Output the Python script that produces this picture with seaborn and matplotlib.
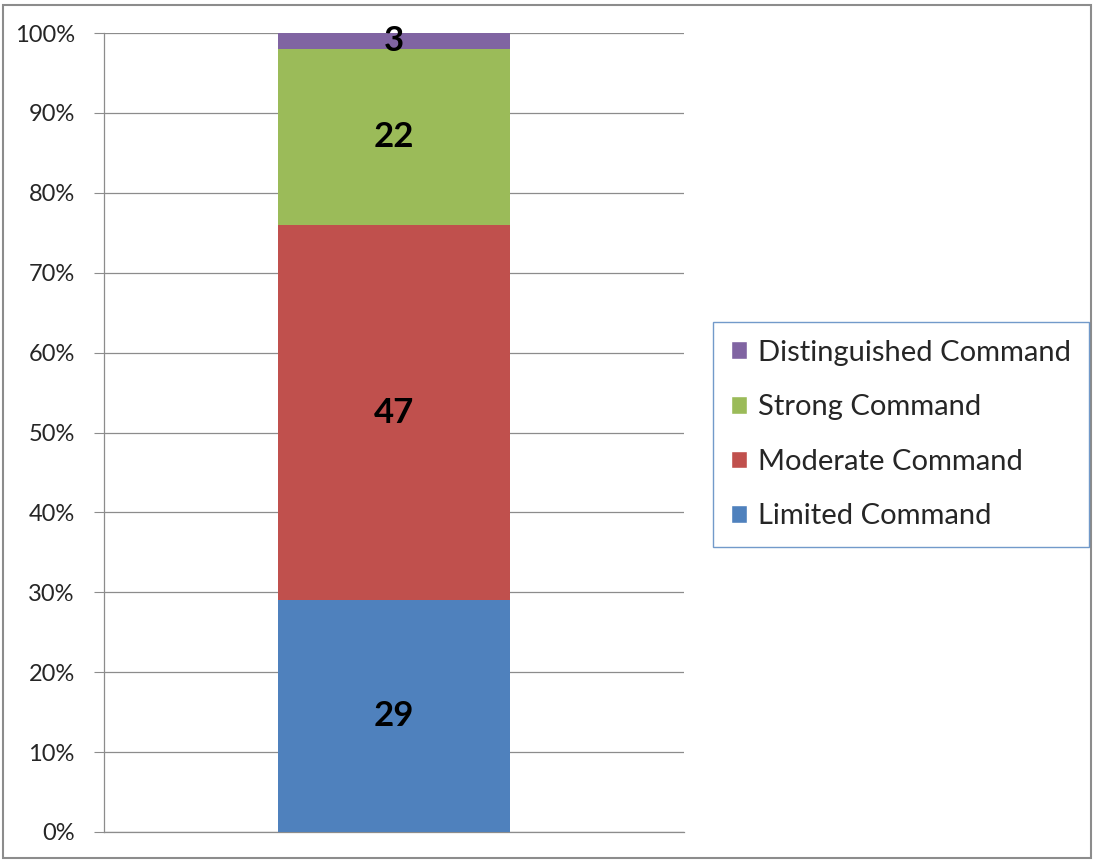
import matplotlib
matplotlib.use("Agg")
import matplotlib.pyplot as plt
import seaborn as sns
import pandas as pd
from matplotlib.patches import Rectangle, Patch
from matplotlib.ticker import PercentFormatter

levels = ["Limited Command", "Moderate Command", "Strong Command", "Distinguished Command"]
shares = [29, 47, 22, 2]          # segment heights in percent
bar_labels = ["29", "47", "22", "3"]
colors = ["#4F81BD", "#C0504D", "#9BBB59", "#8064A2"]

sns.set_style("white")
plt.rcParams["font.family"] = ["Lato", "DejaVu Sans"]

df = pd.DataFrame({"group": ["All"] * len(levels), "level": levels, "share": shares})

fig = plt.figure(figsize=(10.96, 8.61), dpi=100)
ax = fig.add_axes([104 / 1096, 1 - 832 / 861, 580 / 1096, 799 / 861])

bottom = 0
for i, row in df.iterrows():
    sns.barplot(data=df.iloc[[i]], x="group", y="share", bottom=bottom,
                color=colors[i], width=0.4, saturation=1, linewidth=0, ax=ax, zorder=3)
    ax.text(0, bottom + row["share"] / 2, bar_labels[i], ha="center", va="center",
            fontsize=25, fontweight="bold", color="black", zorder=4)
    bottom += row["share"]

ax.set_xlim(-0.5, 0.5)
ax.set_ylim(0, 100)
ax.set_yticks(range(0, 101, 10))
ax.yaxis.set_major_formatter(PercentFormatter(decimals=0))
ax.set_xticks([])
ax.set_xlabel("")
ax.set_ylabel("")
ax.grid(axis="y", color="#8c8c8c", linewidth=0.9, zorder=0)
for s in ["top", "right"]:
    ax.spines[s].set_visible(False)
for s in ["left", "bottom"]:
    ax.spines[s].set_color("#8c8c8c")
    ax.spines[s].set_linewidth(0.9)
ax.tick_params(axis="y", length=7, color="#8c8c8c", labelsize=17, pad=14, left=True)

handles = [Patch(facecolor=colors[i], label=levels[i]) for i in range(len(levels))][::-1]
leg = fig.legend(handles=handles, loc="upper left", bbox_to_anchor=(713 / 1096, 1 - 322 / 861),
                 frameon=True, fancybox=False, fontsize=21, handlelength=0.55, handleheight=0.55,
                 handletextpad=0.4, labelspacing=0.98, borderpad=0.6, borderaxespad=0)
leg.get_frame().set_edgecolor("#4F81BD")
leg.get_frame().set_linewidth(1)

fig.patches.append(Rectangle((3 / 1096, 3 / 861), 1088 / 1096, 853 / 861, transform=fig.transFigure,
                             fill=False, edgecolor="#8c8c8c", linewidth=1.5))

fig.savefig("out.png", dpi=100)
